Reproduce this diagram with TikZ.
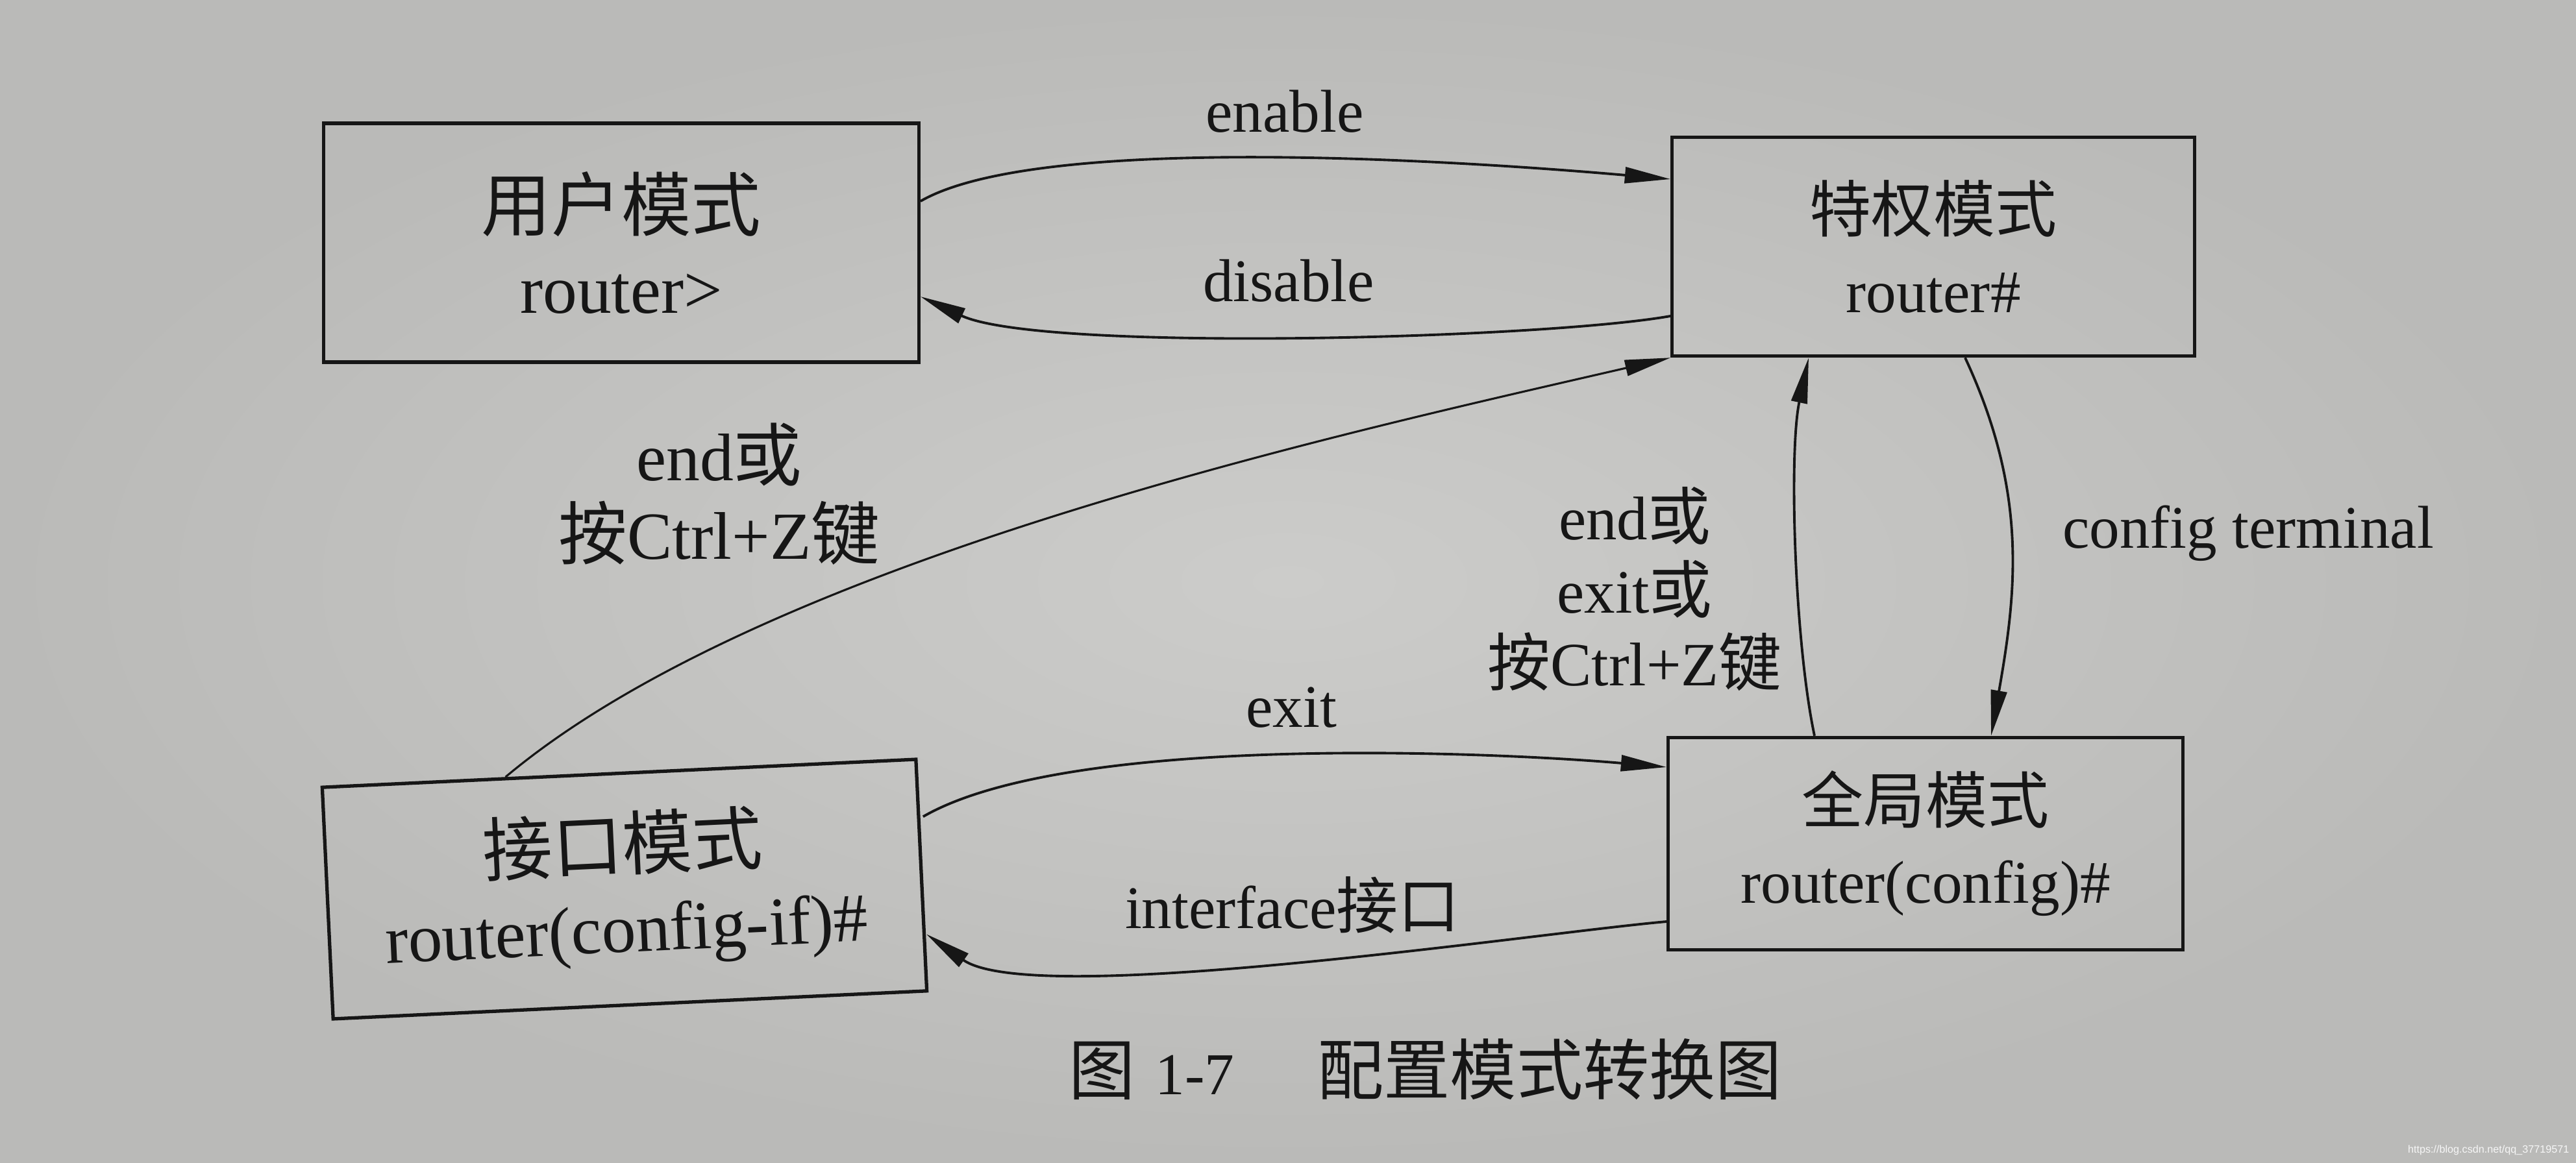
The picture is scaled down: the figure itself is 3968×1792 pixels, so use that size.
\documentclass[tikz,border=0pt]{standalone}
\usepackage{fontspec}
\setmainfont{Liberation Serif}
\newfontfamily\cjkfont{Noto Sans CJK SC}[Scale=1.02]
\newfontfamily\wmfont{Liberation Sans}
\usetikzlibrary{arrows.meta,calc}
\newcommand\zh[1]{{\cjkfont #1}}
\definecolor{page}{RGB}{198,198,196}
\definecolor{pagein}{RGB}{204,204,202}
\definecolor{pageout}{RGB}{186,186,184}
\definecolor{ink}{RGB}{22,22,22}
\begin{document}
\begin{tikzpicture}[x=0.01cm,y=0.01cm,
  box/.style={draw=ink, line width=1.5pt, inner sep=0pt, align=center, text=ink},
  lbl/.style={text=ink, align=center, inner sep=0pt},
  arr/.style={draw=ink, line width=1.1pt, -{Triangle[length=20pt,width=7pt]}},
]
\useasboundingbox (0,0) rectangle (3968,-1792);
\shade[inner color=pagein, outer color=pageout] (0,0) rectangle (3968,-1792);

% mode boxes
\node[box, minimum width=9.16cm, minimum height=3.68cm, font=\fontsize{30}{36}\selectfont] (A) at (957,-374)
  {\zh{用户模式}\\router>};
\node[box, minimum width=8.04cm, minimum height=3.37cm, font=\fontsize{26.5}{35}\selectfont] (B) at (2978,-380)
  {\zh{特权模式}\\router\#};
\node[box, minimum width=9.15cm, minimum height=3.57cm, rotate=2.7, font=\fontsize{30}{36}\selectfont] (C) at (962,-1370)
  {\zh{接口模式}\\router(config-if)\#};
\node[box, minimum width=7.92cm, minimum height=3.27cm, font=\fontsize{26.5}{35}\selectfont] (D) at (2966,-1300)
  {\zh{全局模式}\\router(config)\#};

% labels
\node[lbl, font=\fontsize{26.5}{33}\selectfont] (lenable) at (1979,-172) {enable};
\node[lbl, font=\fontsize{26.5}{33}\selectfont] (ldisable) at (1985,-433) {disable};
\node[lbl, font=\fontsize{29.5}{34.5}\selectfont] (lendl) at (1108,-761)
  {end\zh{或}\\\zh{按}Ctrl+Z\zh{键}};
\node[lbl, font=\fontsize{27}{32}\selectfont] (lendr) at (2518,-908)
  {end\zh{或}\\exit\zh{或}\\\zh{按}Ctrl+Z\zh{键}};
\node[lbl, font=\fontsize{26.5}{33}\selectfont] (lconf) at (3463,-822) {config terminal};
\node[lbl, font=\fontsize{26.5}{33}\selectfont] (lexit) at (1989,-1090) {exit};
\node[lbl, font=\fontsize{26.5}{33}\selectfont] (lif) at (1991,-1395) {interface\zh{接口}};

% connectors
\draw[arr] ([shift={(0,64)}]A.east) to[out=30,in=175,looseness=0.5] ([shift={(0,104)}]B.west);
\draw[arr] ([shift={(0,-107)}]B.west) to[out=190,in=-25,looseness=0.45] ([shift={(0,-83)}]A.east);
\draw[arr] ([shift={(0,90)}]C.east) to[out=30,in=175,looseness=0.58] ([shift={(0,118)}]D.west);
\draw[arr] ([shift={(0,-120)}]D.west) to[out=185,in=-35,looseness=0.45] ([shift={(5,-91)}]C.east);
\draw[arr, line width=0.9pt] ($(C.north west)!0.31!(C.north east)$) to[out=40,in=193,looseness=0.7] (B.south west);
\draw[arr] ([shift={(-171,0)}]D.north) to[out=102,in=-102,looseness=0.65] ([shift={(-192,0)}]B.south);
\draw[arr] ([shift={(49,0)}]B.south) to[out=-65,in=80,looseness=1] ([shift={(101,0)}]D.north);

% caption
\node[text=ink, inner sep=0pt, font=\cjkfont\fontsize{28.5}{30}\selectfont] (cap) at (2196,-1648)
  {图\hspace{0.3em}{\rmfamily\fontsize{26}{30}\selectfont 1-7}\hspace{1.25em}配置模式转换图};

% watermark
\node[anchor=east, inner sep=0pt, text=white!85!page, font=\wmfont\fontsize{4.6}{5}\selectfont] (wm)
  at (3958,-1772) {https://blog.csdn.net/qq\_37719571};
\end{tikzpicture}
\end{document}
